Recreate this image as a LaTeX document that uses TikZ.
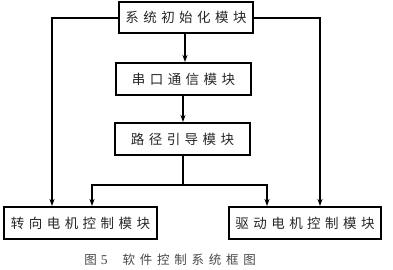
\documentclass[tikz,border=0pt]{standalone}
\usepackage{fontspec}
\newfontfamily\cjk[LetterSpace=33]{Noto Sans CJK SC}
\newfontfamily\cjkcap[LetterSpace=38]{Noto Sans CJK SC}
\newcommand\bxtext[1]{#1\hspace{-4.4pt}}
\usetikzlibrary{arrows.meta}
\begin{document}
\begin{tikzpicture}[x=1pt,y=-1pt,
  box/.style={draw,line width=2pt,inner sep=0pt,font=\cjk\fontsize{13.5}{15}\selectfont,text=black!85},
  conn/.style={line width=2pt,-{Stealth[length=7pt,width=5pt,inset=2pt]}},
  plain/.style={line width=2pt}]
\useasboundingbox (0,0) rectangle (393,269);
\node[box,minimum width=134pt,minimum height=31pt] (init) at (186,17.5) {\bxtext{系统初始化模块}};
\node[box,minimum width=135pt,minimum height=32pt] (com) at (183.5,79) {\bxtext{串口通信模块}};
\node[box,minimum width=135pt,minimum height=32pt] (path) at (182.5,139) {\bxtext{路径引导模块}};
\node[box,minimum width=153pt,minimum height=32pt] (steer) at (80.5,223) {\bxtext{转向电机控制模块}};
\node[box,minimum width=152pt,minimum height=32pt] (drive) at (305,223) {\bxtext{驱动电机控制模块}};
\node[font=\cjkcap\fontsize{12.5}{14}\selectfont,text=black!72] (cap) at (170,260) {图\hspace{4pt}{\fontspec{Liberation Serif}\fontsize{13.5}{14}\selectfont 5}\hspace{15pt}软件控制系统框图\hspace{-4.7pt}};
\coordinate (j) at (182.5,185);
\coordinate (jl) at (92,185);
\coordinate (jr) at (267,185);
\draw[conn] (init.south -| 185,0) -- (com.north -| 185,0);
\draw[conn] (com.south -| 183,0) -- (path.north -| 183,0);
\draw[conn] (init.west) -| (steer.north -| 52,0);
\draw[conn] (init.east) -| (drive.north -| 320,0);
\draw[plain] (path.south) -- (j);
\draw[conn] (j) -- (jl) -- (steer.north -| jl);
\draw[conn] (j) -- (jr) -- (drive.north -| jr);
\end{tikzpicture}
\end{document}
